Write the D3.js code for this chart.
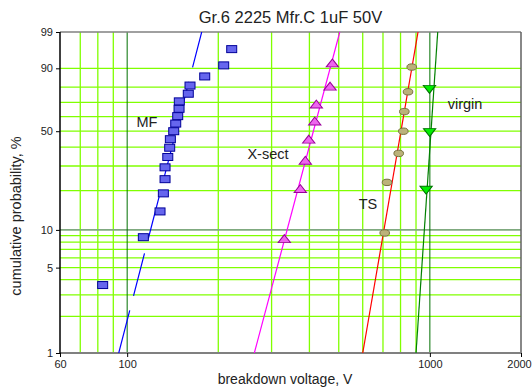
<!DOCTYPE html>
<html>
<head>
<meta charset="utf-8">
<script src="https://cdn.jsdelivr.net/npm/d3@7"></script>
<style>
  html, body { margin: 0; padding: 0; background: #fff; }
  svg { display: block; font-family: "Liberation Sans", Arial, sans-serif; }
</style>
</head>
<body>
<svg id="chart" width="532" height="389"></svg>
<script>
// Breakdown voltages (V) and cumulative probabilities (%) per group
const mfVolts  = [83.0, 113.1, 128.4, 131.7, 133.4, 133.4, 136.2, 138.2, 138.9, 142.5,
                  144.7, 146.9, 148.4, 148.7, 159.2, 161.3, 180.4, 208.4, 221.5];
const mfProb   = [3.61, 8.76, 13.92, 19.07, 24.23, 29.38, 34.54, 39.69, 44.85, 50.0,
                  55.15, 60.31, 65.46, 70.62, 75.77, 80.93, 86.08, 91.24, 96.39];
const xsVolts  = [330.5, 373.3, 387.8, 398.0, 416.6, 421.7, 468.0, 476.3];
const xsProb   = [8.33, 20.24, 32.14, 44.05, 55.95, 67.86, 79.76, 91.67];
const tsVolts  = [709.2, 721.8, 789.0, 817.1, 823.4, 846.8, 871.0];
const tsProb   = [9.46, 22.97, 36.49, 50.0, 63.51, 77.03, 90.54];
const vgVolts  = [972, 998, 997];
const vgProb   = [20.59, 50.0, 79.41];

// Weibull fit lines: voltage at 1 % and at 99 %
const fitMF = [93.8, 176.3];
const fitXS = [263.1, 503.9];
const fitTS = [600.1, 913.9];
const fitVG = [900, 1061.5];

const xTickLabels = [60, 100, 1000, 2000];
const yTickLabels = [1, 5, 10, 50, 90, 99];
const xMinorGrid = [70, 80, 90, 200, 300, 400, 500, 600, 700, 800, 900];
const xMajorGrid = [100, 1000];
const yGrid = [2, 3, 4, 5, 6, 7, 8, 9, 20, 30, 40, 50, 60, 70, 80, 90];

const svg = d3.select("#chart");
const L = 60, R = 521, T = 32, B = 353;

const weib = p => Math.log(-Math.log(1 - p / 100));
const x = d3.scaleLog().domain([60, 2000]).range([L, R]);
const yLin = d3.scaleLinear().domain([weib(1), weib(99)]).range([B, T]);
const y = p => yLin(weib(p));

// grid
const g = svg.append("g");
g.selectAll(".ymg").data(yGrid).enter().append("line")
  .attr("x1", L).attr("x2", R).attr("y1", d => y(d)).attr("y2", d => y(d))
  .attr("stroke", "#80ff00").attr("stroke-width", 1.3);
g.selectAll(".xmg").data(xMinorGrid).enter().append("line")
  .attr("x1", d => x(d)).attr("x2", d => x(d)).attr("y1", T).attr("y2", B)
  .attr("stroke", "#80ff00").attr("stroke-width", 1.3);
g.append("line").attr("x1", L).attr("x2", R).attr("y1", y(10)).attr("y2", y(10))
  .attr("stroke", "#7faa7f").attr("stroke-width", 1.6);
g.selectAll(".xMg").data(xMajorGrid).enter().append("line")
  .attr("x1", d => x(d)).attr("x2", d => x(d)).attr("y1", T).attr("y2", B)
  .attr("stroke", "#007000").attr("stroke-width", 1);

// frame
svg.append("line").attr("x1", L).attr("x2", R).attr("y1", T).attr("y2", T)
  .attr("stroke", "#808080").attr("stroke-width", 1.5);
svg.append("line").attr("x1", R).attr("x2", R).attr("y1", T).attr("y2", B)
  .attr("stroke", "#606060").attr("stroke-width", 1.5);
svg.append("line").attr("x1", L).attr("x2", R).attr("y1", B).attr("y2", B)
  .attr("stroke", "#808080").attr("stroke-width", 2);
svg.append("line").attr("x1", L).attr("x2", L).attr("y1", T).attr("y2", B)
  .attr("stroke", "#000").attr("stroke-width", 1.5);

// axes ticks and labels
const xAxis = d3.axisBottom(x).tickValues(xTickLabels).tickFormat(d3.format("d")).tickSize(4);
const xa = svg.append("g").attr("transform", `translate(0,${B})`).call(xAxis);
xa.select(".domain").remove();
xa.selectAll("line").attr("stroke", "#000");
xa.selectAll("text").attr("font-size", 11).attr("fill", "#222")
  .attr("font-family", "Liberation Sans, Arial, sans-serif")
  .attr("dx", d => d === 2000 ? -2 : 0);

const yAxScale = d3.scaleLinear().domain(yLin.domain()).range(yLin.range());
const yAxis = d3.axisLeft(yAxScale).tickValues(yTickLabels.map(weib)).tickSize(4)
  .tickFormat((d, i) => yTickLabels[i]);
const ya = svg.append("g").attr("transform", `translate(${L},0)`).call(yAxis);
ya.select(".domain").remove();
ya.selectAll("line").attr("stroke", "#000");
ya.selectAll("text").attr("font-size", 11).attr("fill", "#222")
  .attr("font-family", "Liberation Sans, Arial, sans-serif");

// fit lines
svg.append("clipPath").attr("id", "plot")
  .append("rect").attr("x", L).attr("y", T).attr("width", R - L).attr("height", B - T);
const lines = svg.append("g").attr("clip-path", "url(#plot)");
function fit(v, color, dash) {
  lines.append("line")
    .attr("x1", x(v[0])).attr("y1", y(1)).attr("x2", x(v[1])).attr("y2", y(99))
    .attr("stroke", color).attr("stroke-width", 1.2)
    .attr("stroke-dasharray", dash || null);
}
fit(fitMF, "#0000ff", "44,15");
fit(fitXS, "#ff00ff");
fit(fitTS, "#ff0000");
fit(fitVG, "#008000");

// markers
const pts = svg.append("g");
pts.selectAll(".mf").data(mfVolts).enter().append("rect")
  .attr("x", d => x(d) - 5).attr("y", (d, i) => y(mfProb[i]) - 3.5)
  .attr("width", 10).attr("height", 7)
  .attr("fill", "#6666ee").attr("stroke", "#000099").attr("stroke-width", 1);

const triUp = d3.symbol().type(d3.symbolTriangle).size(50);
pts.selectAll(".xs").data(xsVolts).enter().append("path")
  .attr("d", triUp)
  .attr("transform", (d, i) => `translate(${x(d)},${y(xsProb[i])}) scale(1.15,0.85)`)
  .attr("fill", "#ee66ee").attr("stroke", "#990099").attr("stroke-width", 1);

pts.selectAll(".ts").data(tsVolts).enter().append("ellipse")
  .attr("cx", d => x(d)).attr("cy", (d, i) => y(tsProb[i]))
  .attr("rx", 4.8).attr("ry", 3.2)
  .attr("fill", "#bbb27a").attr("stroke", "#77703f").attr("stroke-width", 1);

pts.selectAll(".vg").data(vgVolts).enter().append("path")
  .attr("d", triUp)
  .attr("transform", (d, i) => `translate(${x(d)},${y(vgProb[i])}) scale(1.15,-0.85)`)
  .attr("fill", "#00ee00").attr("stroke", "#007000").attr("stroke-width", 1);

// series labels
const labels = [["MF", 147, 127], ["X-sect", 268, 159], ["TS", 368, 209], ["virgin", 465, 109]];
svg.selectAll(".lab").data(labels).enter().append("text")
  .attr("x", d => d[1]).attr("y", d => d[2]).attr("text-anchor", "middle")
  .attr("font-size", 14.5).attr("fill", "#222").text(d => d[0]);

// titles
svg.append("text").attr("x", 290.5).attr("y", 23).attr("text-anchor", "middle")
  .attr("font-size", 16.5).attr("fill", "#222").text("Gr.6 2225 Mfr.C 1uF 50V");
svg.append("text").attr("x", 285).attr("y", 384).attr("text-anchor", "middle")
  .attr("font-size", 14).attr("fill", "#222").text("breakdown voltage, V");
svg.append("text").attr("transform", "translate(21,216) rotate(-90)")
  .attr("text-anchor", "middle").attr("font-size", 14.5).attr("fill", "#222")
  .text("cumulative probability, %");
</script>
</body>
</html>
